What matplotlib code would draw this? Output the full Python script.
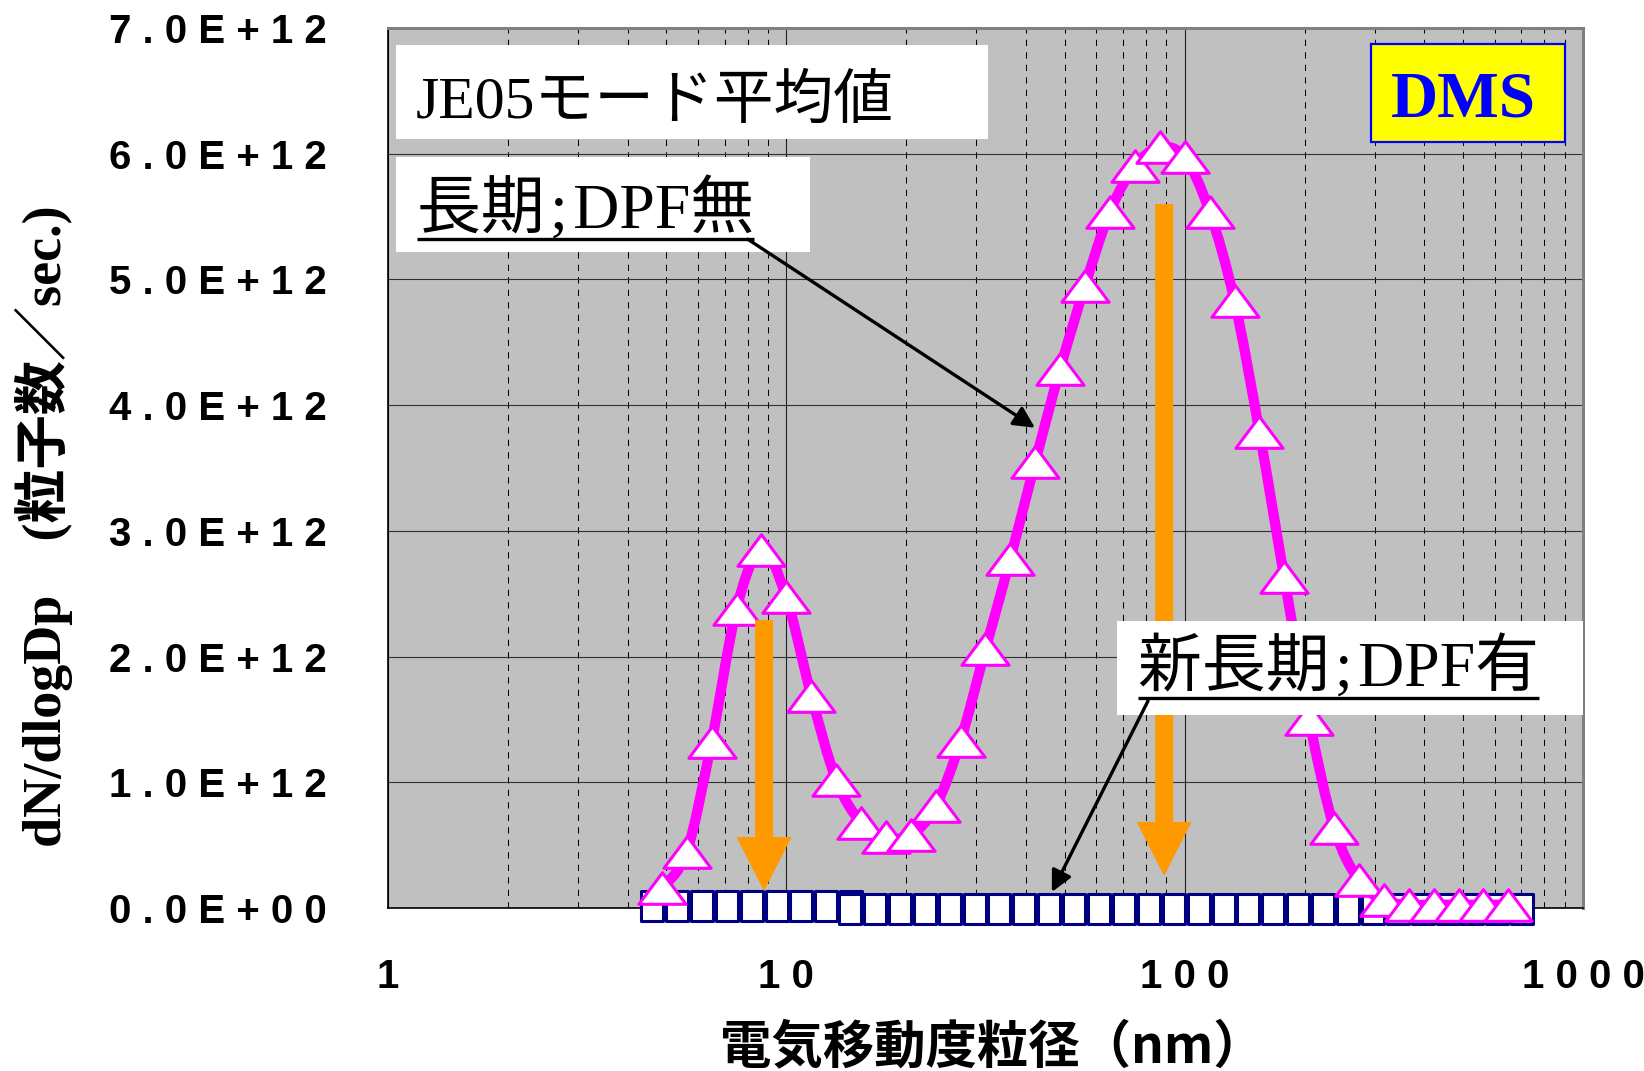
import numpy as np
import matplotlib
matplotlib.use("Agg")
import matplotlib.pyplot as plt
from matplotlib.path import Path
from matplotlib.patches import PathPatch, Rectangle, Polygon
from matplotlib.ticker import FuncFormatter, LogLocator, NullFormatter, MultipleLocator

# ---------------- data ----------------
# 長期;DPF無 (triangles), dN/dlogDp in units of 1E+12
diam_nodpf = [4.87, 5.62, 6.49, 7.50, 8.66, 10.0, 11.55, 13.34, 15.40, 17.78,
              20.54, 23.71, 27.38, 31.62, 36.52, 42.17, 48.70, 56.23, 64.94, 74.99,
              86.60, 100.0, 115.5, 133.4, 154.0, 177.8, 205.4, 237.1, 273.8, 316.2,
              365.2, 421.7, 487.0, 562.3, 649.4]
dn_nodpf = [0.16, 0.445, 1.32, 2.38, 2.85, 2.47, 1.69, 1.02, 0.68, 0.565,
            0.58, 0.81, 1.33, 2.06, 2.78, 3.55, 4.29, 4.95, 5.54, 5.90,
            6.05, 5.97, 5.54, 4.83, 3.79, 2.63, 1.50, 0.64, 0.22, 0.06,
            0.026, 0.026, 0.026, 0.026, 0.026]

# 新長期;DPF有 (squares), two overlapping runs
diam_dpf_a = [4.60, 5.31, 6.14, 7.09, 8.18, 9.45, 10.91, 12.60, 14.55]
dn_dpf_a = [0.015, 0.015, 0.015, 0.015, 0.015, 0.015, 0.015, 0.015, 0.015]
diam_dpf_b = [14.45, 16.69, 19.28, 22.26, 25.70, 29.68, 34.28, 39.58, 45.71, 52.78,
              60.95, 70.38, 81.28, 93.87, 108.4, 125.2, 144.5, 166.9, 192.8, 222.6,
              257.0, 296.8, 342.8, 395.8, 457.1, 527.8, 609.5, 703.8]
dn_dpf_b = [-0.01] * 28

UNIT = 1e12
y_ticks_max = 7
x_ticks = [1, 10, 100, 1000]

title_text = "JE05モード平均値"
label_nodpf = "長期\u200a;\u200aDPF無"
label_dpf = "新長期\u200a;\u200aDPF有"
badge_text = "DMS"
xlabel = "電気移動度粒径（nm）"
ylabel = "dN/dlogDp　(粒子数／sec.)"

# ---------------- figure ----------------
W, H = 1644, 1071
fig = plt.figure(figsize=(W / 100, H / 100), dpi=100)
L, R, T, B = 388, 1583, 28, 908
ax = fig.add_axes([L / W, 1 - B / H, (R - L) / W, (B - T) / H])
ax.set_facecolor("#C0C0C0")
ax.set_xscale("log")
ax.set_xlim(1, 1000)
ax.set_ylim(0, y_ticks_max * UNIT)

ax.yaxis.set_major_locator(MultipleLocator(UNIT))
ax.yaxis.set_major_formatter(FuncFormatter(lambda v, p: " ".join(f"{v:.1E}")))
ax.xaxis.set_major_locator(matplotlib.ticker.FixedLocator(x_ticks))
ax.xaxis.set_major_formatter(FuncFormatter(lambda v, p: " ".join(str(int(round(v))))))
ax.xaxis.set_minor_locator(LogLocator(base=10, subs=np.arange(2, 10)))
ax.xaxis.set_minor_formatter(NullFormatter())
ax.tick_params(axis="both", which="both", length=0)
ax.tick_params(axis="y", pad=44, labelsize=29)
ax.tick_params(axis="x", pad=36, labelsize=29)
for lab in ax.get_xticklabels() + ax.get_yticklabels():
    lab.set_fontweight("bold")
    lab.set_family("Liberation Sans")

ax.grid(True, axis="y", which="major", color="#303030", lw=0.8)
ax.grid(True, axis="x", which="major", color="#202020", lw=0.8)
ax.grid(True, axis="x", which="minor", color="black", lw=0.75, linestyle=(0, (6, 6)))
ax.set_axisbelow(True)

for s in ["left", "bottom"]:
    ax.spines[s].set_color("black")
    ax.spines[s].set_linewidth(1.2)
for s in ["top", "right"]:
    ax.spines[s].set_color("#808080")
    ax.spines[s].set_linewidth(2.2)

# ---------------- smoothed magenta line (Excel-like Bezier smoothing) ----------------
lx = np.log10(np.array(diam_nodpf))
yy = np.array(dn_nodpf) * UNIT
P = np.column_stack([lx, yy])
n = len(P)
verts = [P[0]]
codes = [Path.MOVETO]
for i in range(n - 1):
    p0 = P[i - 1] if i > 0 else P[i]
    p3 = P[i + 2] if i + 2 < n else P[i + 1]
    c1 = P[i] + (P[i + 1] - p0) / 6.0
    c2 = P[i + 1] - (p3 - P[i]) / 6.0
    verts += [c1, c2, P[i + 1]]
    codes += [Path.CURVE4] * 3
verts = np.array(verts)
verts[:, 0] = 10 ** verts[:, 0]
ax.add_patch(PathPatch(Path(verts, codes), facecolor="none", edgecolor="#FF00FF",
                       lw=7.4, capstyle="round", joinstyle="round", zorder=4))

# markers
h = 0.67
tri = Path([(0, h), (-1, -h), (1, -h), (0, h)],
           [Path.MOVETO, Path.LINETO, Path.LINETO, Path.CLOSEPOLY])
rw = 0.37
rect = Path([(-rw, -0.5), (rw, -0.5), (rw, 0.5), (-rw, 0.5), (-rw, -0.5)],
            [Path.MOVETO, Path.LINETO, Path.LINETO, Path.LINETO, Path.CLOSEPOLY])

ax.plot(diam_dpf_a, np.array(dn_dpf_a) * UNIT, ls="none", marker=rect, ms=21,
        mfc="white", mec="#000080", mew=2.2, zorder=3, clip_on=False)
ax.plot(diam_dpf_b, np.array(dn_dpf_b) * UNIT, ls="none", marker=rect, ms=21,
        mfc="white", mec="#000080", mew=2.2, zorder=3.1, clip_on=False)
ax.plot(diam_nodpf, yy, ls="none", marker=tri, ms=34, mfc="white", mec="#FF00FF",
        mew=2.2, zorder=5, clip_on=False)

# ---------------- orange block arrows ----------------
def block_arrow(x, y_top, y_tip, shaft_px=18, head_w_px=55, head_len_px=54):
    xd, ytd = ax.transData.transform((x, y_top))
    _, yd_tip = ax.transData.transform((x, y_tip))
    yd_head = yd_tip + head_len_px
    pts = [(xd - shaft_px / 2, ytd), (xd + shaft_px / 2, ytd),
           (xd + shaft_px / 2, yd_head), (xd + head_w_px / 2, yd_head),
           (xd, yd_tip), (xd - head_w_px / 2, yd_head), (xd - shaft_px / 2, yd_head)]
    pts = ax.transData.inverted().transform(pts)
    ax.add_patch(Polygon(pts, closed=True, facecolor="#FF9900", edgecolor="none",
                         zorder=6, clip_on=False))

block_arrow(8.79, 2.29 * UNIT, 0.135 * UNIT)
block_arrow(88.8, 5.60 * UNIT, 0.255 * UNIT)

# ---------------- text boxes ----------------
def wbox(x0, x1, y0, y1, fc="white", ec="none", lw=0):
    ax.add_patch(Rectangle((x0, y0), x1 - x0, y1 - y0, transform=ax.transAxes,
                           facecolor=fc, edgecolor=ec, lw=lw, zorder=7, clip_on=False))

mixfam = ["Liberation Serif", "Noto Sans CJK JP"]
wbox(0.0067, 0.502, 0.874, 0.9807)
ax.text(0.0234, 0.898, title_text, transform=ax.transAxes, fontsize=43,
        family=mixfam, va="baseline", ha="left", zorder=8)

wbox(0.0067, 0.3531, 0.7455, 0.8534)
t2 = ax.text(0.0243, 0.772, label_nodpf, transform=ax.transAxes, fontsize=46,
             family=mixfam, va="baseline", ha="left", zorder=8)

wbox(0.6100, 1.0, 0.2193, 0.3261)
t3 = ax.text(0.6273, 0.2514, label_dpf, transform=ax.transAxes, fontsize=46,
             family=mixfam, va="baseline", ha="left", zorder=8)

wbox(0.8226, 0.9849, 0.8705, 0.9818, fc="#FFFF00", ec="#0000FF", lw=1.6)
ax.text(0.8996, 0.8992, badge_text, transform=ax.transAxes, fontsize=47,
        family="Liberation Serif", fontweight="bold", color="#0000FF",
        va="baseline", ha="center", zorder=8)

# underlines
fig.canvas.draw()
inv = ax.transAxes.inverted()
for t, uy in [(t2, 0.760), (t3, 0.2386)]:
    bb = t.get_window_extent()
    xa0 = inv.transform((bb.x0, 0))[0]
    xa1 = inv.transform((bb.x1, 0))[0]
    ax.plot([xa0, xa1], [uy, uy], transform=ax.transAxes, color="black", lw=2.4,
            zorder=8, clip_on=False, solid_capstyle="butt")

# black pointer arrows
for start, tip in [((8.0, 5.32 * UNIT), (42.1, 3.82 * UNIT)),
                   ((80.9, 1.647 * UNIT), (46.4, 0.127 * UNIT))]:
    ax.annotate("", xy=tip, xytext=start, xycoords="data", textcoords="data",
                arrowprops=dict(arrowstyle="-|>", color="black", lw=2.4,
                                mutation_scale=32, shrinkA=0, shrinkB=0),
                zorder=9, annotation_clip=False)

# axis labels
fig.text(992 / W, 1 - 1047 / H, xlabel, ha="center", va="center", fontsize=37,
         fontweight="bold", family=["Noto Sans CJK JP"])
fig.text(44 / W, 1 - 526 / H, ylabel, ha="center", va="center", rotation=90,
         fontsize=39, fontweight="bold", family=mixfam)

fig.savefig("out.png", dpi=100, facecolor="white")
